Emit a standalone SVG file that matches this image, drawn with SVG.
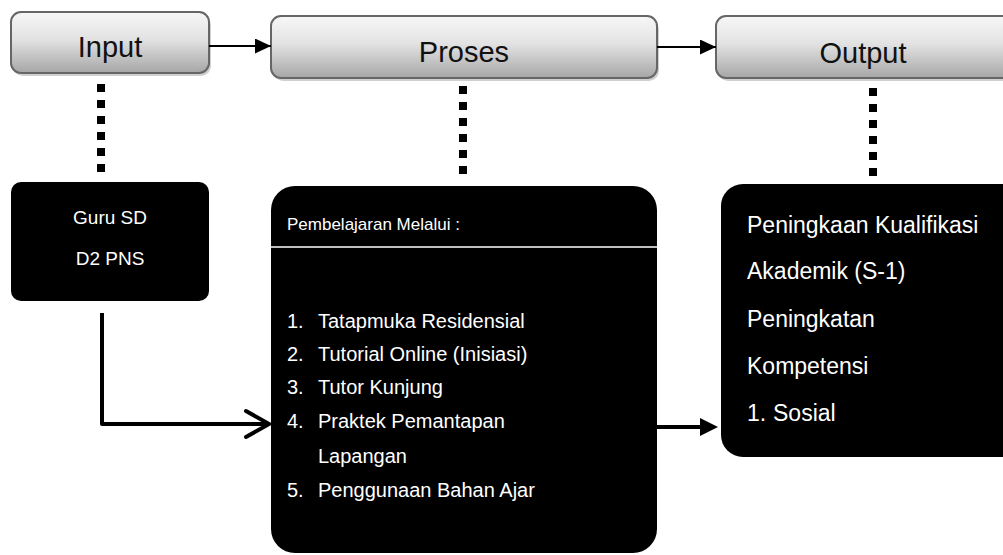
<svg xmlns="http://www.w3.org/2000/svg" width="1003" height="555" viewBox="0 0 1003 555">
<defs>
<linearGradient id="g" x1="0" y1="0" x2="0" y2="1">
<stop offset="0" stop-color="#f7f7f7"/>
<stop offset="0.45" stop-color="#e2e2e2"/>
<stop offset="1" stop-color="#a6a6a6"/>
</linearGradient>
<marker id="tri" markerWidth="16" markerHeight="16" refX="16" refY="7.5" orient="auto" markerUnits="userSpaceOnUse">
<path d="M0 0 L16 7.5 L0 15 Z" fill="#000"/>
</marker>
</defs>
<style>
.hdr{fill:url(#g);stroke:#666;stroke-width:2}
.shd{fill:#d0d0d0}
.ht{font-family:"Liberation Sans",Arial,sans-serif;font-size:29px;fill:#111;text-anchor:middle}
.blk{fill:#000}
.wt{font-family:"Liberation Sans",Arial,sans-serif;fill:#fff}
.dot{fill:#000}
</style>
<rect width="1003" height="555" fill="#fff"/>

<g id="input">
<rect class="shd" x="13" y="15" width="198" height="61" rx="10"/>
<rect class="hdr" x="11" y="12" width="198" height="61" rx="10"/>
<text class="ht" x="110" y="57">Input</text>
</g>
<g id="proses">
<rect class="shd" x="273" y="19" width="386" height="62" rx="10"/>
<rect class="hdr" x="271" y="16" width="386" height="62" rx="10"/>
<text class="ht" x="464" y="62">Proses</text>
</g>
<g id="output">
<rect class="shd" x="718" y="19" width="310" height="62" rx="10"/>
<rect class="hdr" x="716" y="16" width="310" height="62" rx="10"/>
<text class="ht" x="863" y="63">Output</text>
</g>

<g id="guru">
<rect class="blk" x="11" y="182" width="198" height="119" rx="10"/>
<text class="wt" font-size="19" text-anchor="middle" x="110" y="224">Guru SD</text>
<text class="wt" font-size="19" text-anchor="middle" x="110" y="265">D2 PNS</text>
</g>

<g id="pembelajaran">
<rect class="blk" x="271" y="186" width="386" height="367" rx="24"/>
<text class="wt" font-size="17" x="287" y="230">Pembelajaran Melalui :</text>
<line x1="271" y1="247" x2="657" y2="247" stroke="#fff" stroke-width="1.5"/>
<g class="wt" font-size="20">
<text x="287" y="328">1.</text><text x="318" y="328">Tatapmuka Residensial</text>
<text x="287" y="361">2.</text><text x="318" y="361">Tutorial Online (Inisiasi)</text>
<text x="287" y="394">3.</text><text x="318" y="394">Tutor Kunjung</text>
<text x="287" y="428">4.</text><text x="318" y="428">Praktek Pemantapan</text>
<text x="318" y="463">Lapangan</text>
<text x="287" y="497">5.</text><text x="318" y="497">Penggunaan Bahan Ajar</text>
</g>
</g>

<g id="hasil">
<rect class="blk" x="721" y="184" width="310" height="273" rx="22"/>
<g class="wt" font-size="23">
<text x="747" y="233">Peningkaan Kualifikasi</text>
<text x="747" y="279">Akademik (S-1)</text>
<text x="747" y="327">Peningkatan</text>
<text x="747" y="374">Kompetensi</text>
<text x="747" y="421">1.</text><text x="773" y="421">Sosial</text>
</g>
</g>

<g id="connectors">
<line x1="209" y1="46" x2="271" y2="46" stroke="#000" stroke-width="2" marker-end="url(#tri)"/>
<line x1="657" y1="47" x2="716" y2="47" stroke="#000" stroke-width="2" marker-end="url(#tri)"/>
<g class="dot">
<rect x="97" y="84" width="8" height="8"/><rect x="97" y="100" width="8" height="8"/><rect x="97" y="116" width="8" height="8"/><rect x="97" y="132" width="8" height="8"/><rect x="97" y="148" width="8" height="8"/><rect x="97" y="164" width="8" height="8"/>
<rect x="459" y="86" width="8" height="8"/><rect x="459" y="102" width="8" height="8"/><rect x="459" y="118" width="8" height="8"/><rect x="459" y="134" width="8" height="8"/><rect x="459" y="150" width="8" height="8"/><rect x="459" y="166" width="8" height="8"/>
<rect x="869" y="88" width="8" height="8"/><rect x="869" y="104" width="8" height="8"/><rect x="869" y="120" width="8" height="8"/><rect x="869" y="136" width="8" height="8"/><rect x="869" y="152" width="8" height="8"/><rect x="869" y="168" width="8" height="8"/>
</g>
<path d="M102 313 V424 H268" fill="none" stroke="#000" stroke-width="4" stroke-linejoin="round"/>
<path d="M246 411 L269 424 L246 437" fill="none" stroke="#000" stroke-width="4" stroke-linecap="round" stroke-linejoin="miter"/>
<line x1="657" y1="427" x2="702" y2="427" stroke="#000" stroke-width="4"/>
<path d="M700 418 L718 427 L700 436 Z" fill="#000"/>
</g>
</svg>
